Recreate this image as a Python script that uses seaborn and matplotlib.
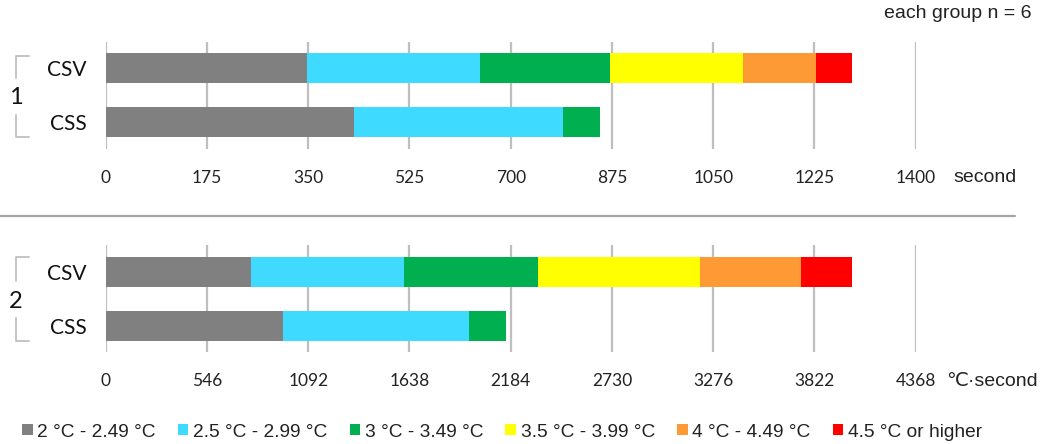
import matplotlib
matplotlib.use("Agg")
import matplotlib.pyplot as plt
from matplotlib.lines import Line2D
from matplotlib.patches import Patch
import seaborn as sns
import pandas as pd
import numpy as np

sns.set_style("white")
plt.rcParams['font.family'] = ['Lato', 'DejaVu Sans']

# --- data ---
groups = ['CSV', 'CSS']
bands = ['2 °C - 2.49 °C', '2.5 °C - 2.99 °C', '3 °C - 3.49 °C',
         '3.5 °C - 3.99 °C', '4 °C - 4.49 °C', '4.5 °C or higher']
band_colors = ['#808080', '#3FDAFF', '#00AF50', '#FFFF00', '#FD9A35', '#FF0000']

# panel 1: time (second) in each temperature band
sec_csv = [348, 299, 225, 230, 126, 62]
sec_css = [429, 361, 64, 0, 0, 0]
sec_ticks = [0, 175, 350, 525, 700, 875, 1050, 1225, 1400]

# panel 2: dose (°C·second) in each band
dose_csv = [782, 828, 719, 878, 540, 279]
dose_css = [955, 1006, 198, 0, 0, 0]
dose_ticks = [0, 546, 1092, 1638, 2184, 2730, 3276, 3822, 4368]

W, H = 1045, 444
fig = plt.figure(figsize=(W / 100, H / 100), dpi=100)


def fx(px):
    return px / W


def fy(py):
    return 1 - py / H


def stacked(ax, csv_vals, css_vals, ticks):
    df = pd.DataFrame({'group': np.repeat(groups, len(bands)),
                       'band': bands * 2,
                       'value': csv_vals + css_vals})
    df['cum'] = df.groupby('group')['value'].cumsum()
    # draw longest cumulative first so shorter ones sit on top
    for b, c in reversed(list(zip(bands, band_colors))):
        sub = df[df['band'] == b]
        sns.barplot(data=sub, x='cum', y='group', order=groups, color=c,
                    saturation=1, width=0.555, errorbar=None,
                    edgecolor='none', linewidth=0, ax=ax)
    ax.set_xlim(ticks[0], ticks[-1])
    ax.set_xticks(ticks)
    ax.set_ylim(1.49, -0.49)
    ax.set_xlabel('')
    ax.set_ylabel('')
    ax.set_axisbelow(True)
    ax.grid(axis='x', color='#BFBFBF', linewidth=1.6)
    ax.grid(axis='y', visible=False)
    sns.despine(ax=ax, left=True, bottom=True)
    ax.tick_params(axis='x', length=0, pad=15, labelsize=12.5, labelcolor='#222222')
    ax.tick_params(axis='y', length=0, pad=14, labelsize=15, labelcolor='#111111')


ax1 = fig.add_axes([fx(105.7), fy(149), fx(810), 107.3 / H])
stacked(ax1, sec_csv, sec_css, sec_ticks)
ax2 = fig.add_axes([fx(105.7), fy(352.3), fx(810), 107.3 / H])
stacked(ax2, dose_csv, dose_css, dose_ticks)

# unit labels
unit_font = ['Liberation Sans', 'DejaVu Sans']
fig.text(fx(953), fy(177), 'second', fontsize=14, family=unit_font,
         va='center', ha='left', color='#222222')
fig.text(fx(946), fy(381), '℃·second', fontsize=14, family=unit_font,
         va='center', ha='left', color='#222222')
fig.text(fx(1032), fy(14), 'each group n = 6', fontsize=14, family=unit_font,
         va='center', ha='right', color='#222222')

# group brackets + numbers
brk = '#BFBFBF'
for top, bot, mid, num in [(56, 137, 98, '1'), (257, 341, 301, '2')]:
    fig.add_artist(Line2D([fx(29), fx(16), fx(16)], [fy(top), fy(top), fy(mid - 20)],
                          color=brk, lw=1.3))
    fig.add_artist(Line2D([fx(16), fx(16), fx(29)], [fy(mid + 17), fy(bot), fy(bot)],
                          color=brk, lw=1.3))
    fig.text(fx(15.5), fy(mid), num, fontsize=17, ha='center', va='center',
             color='#111111')

# separator between panels
fig.add_artist(Line2D([0, fx(1015)], [fy(215.7), fy(215.7)], color='#A6A6A6', lw=1.6))

# legend
handles = [Patch(facecolor=c, edgecolor='none', label=b)
           for b, c in zip(bands, band_colors)]
fig.legend(handles=handles, loc='center left', bbox_to_anchor=(fx(22), fy(432)),
           ncol=6, frameon=False, prop={'family': unit_font, 'size': 13.8},
           handlelength=0.55, handleheight=0.55, handletextpad=0.25,
           columnspacing=1.15, borderpad=0, borderaxespad=0, labelcolor='#222222')

fig.savefig('out.png', dpi=100)
